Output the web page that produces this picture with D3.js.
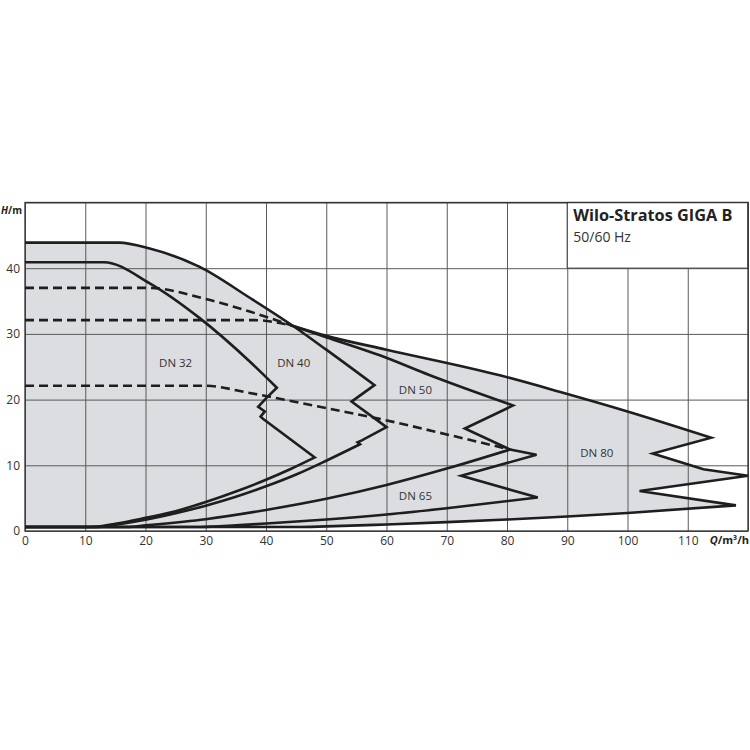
<!DOCTYPE html>
<html>
<head>
<meta charset="utf-8">
<script src="https://cdn.jsdelivr.net/npm/d3@7"></script>
<style>
    body { margin: 0; background: #fff; }
    text { font-family: "Open Sans", "Noto Sans", sans-serif; }
</style>
</head>
<body>
<div id="pump-chart"></div>
<script>

// axis ticks
var qTicks = [0, 10, 20, 30, 40, 50, 60, 70, 80, 90, 100, 110]
var hTicks = [0, 10, 20, 30, 40]
var gridQ = [0, 10, 20, 30, 40, 50, 60, 70, 80, 90, 100, 110, 120]
var gridH = [0, 10, 20, 30, 40, 50]

// [Q m3/h, H m] points
var dn32Top = [[0, 40.9], [13.1, 40.9], [20.7, 37.7], [29, 32.4], [37.3, 25.8], [41.8, 21.8]]
var dn32Edge = [[41.8, 21.8], [40.0, 20.2], [38.7, 18.9], [39.8, 18.2], [39.1, 17.4], [39.6, 17.0], [48.1, 11.2]]
var dn32Base = [[0, 0.6], [11, 0.6], [15, 1.1], [20, 2.0], [25, 3.0], [30, 4.4], [35, 6.0], [40, 7.8], [44, 9.4], [48.1, 11.2]]

var dn40Top = [[0, 43.9], [15.6, 43.9], [20.7, 43.0], [29, 40.2], [37.3, 35.5], [44.5, 31.2], [50, 27.6], [58, 22.2]]
var dn40Edge = [[58, 22.2], [54.2, 19.7], [60, 15.8], [55.9, 13.8], [55.2, 13.5], [55.6, 13.2]]
var dn40Base = [[0, 0.6], [12, 0.6], [15, 0.95], [20, 1.7], [25, 2.7], [30, 3.85], [35, 5.2], [40, 6.8], [45, 8.6], [50, 10.7], [55.6, 13.2]]

var dn50Dash = [[0, 37], [20.5, 37], [30, 35.3], [37.3, 33.4], [44.5, 31.2]]
var dn50Top = [[44.5, 31.2], [50, 29.5], [59, 26.7], [67.2, 23.7], [81, 19.1]]
var dn50Edge = [[81, 19.1], [73, 15.6], [80.5, 12.4]]
var dn50Base = [[0, 0.6], [17, 0.6], [20, 0.85], [30, 1.8], [40, 3.2], [50, 4.9], [60, 7.0], [70, 9.5], [80.5, 12.4]]

var dn65Dash = [[0, 22.1], [30, 22.1], [37.3, 21.0], [50, 18.7], [59.7, 16.9], [70, 14.7], [80.5, 12.4]]
var dn65Top = [[80.5, 12.4], [84.9, 11.6]]
var dn65Edge = [[84.9, 11.6], [72.4, 8.4], [85.1, 5.1]]
var dn65Base = [[0, 0.6], [29, 0.6], [35, 0.85], [40, 1.15], [50, 1.75], [60, 2.5], [70, 3.45], [85.1, 5.1]]

var dn80Dash = [[0, 32.1], [38, 32.1], [44.5, 31.2]]
var dn80Top = [[44.5, 31.2], [50, 29.7], [60, 27.6], [78.8, 23.7], [88.7, 21.2], [100, 18.2], [113.9, 14.2]]
var dn80Edge = [[113.9, 14.2], [104.2, 11.8], [112.6, 9.4], [120, 8.4], [102, 6.1], [118, 3.9]]
var dn80Base = [[0, 0.6], [45, 0.6], [50, 0.7], [60, 1.0], [70, 1.35], [80, 1.75], [90, 2.2], [100, 2.75], [118, 3.9]]

var seriesNames = ["DN 32", "DN 40", "DN 50", "DN 65", "DN 80"]
var labelAt = [[25, 25.6], [44.6, 25.6], [64.8, 21.5], [64.8, 5.3], [94.9, 11.9]]

var regions = [
    { dash: null, top: dn32Top, edge: dn32Edge, base: dn32Base },
    { dash: null, top: dn40Top, edge: dn40Edge, base: dn40Base },
    { dash: dn50Dash, top: dn50Top, edge: dn50Edge, base: dn50Base },
    { dash: dn65Dash, top: dn65Top, edge: dn65Edge, base: dn65Base },
    { dash: dn80Dash, top: dn80Top, edge: dn80Edge, base: dn80Base }
]

var svg = d3.select("#pump-chart")
    .append("svg")
    .attr("width", 750)
    .attr("height", 750)

var x = d3.scaleLinear().domain([0, 120]).range([25, 748])
var y = d3.scaleLinear().domain([0, 50]).range([531, 202.5])

var smooth = d3.line()
    .x(function (d) { return x(d[0]) })
    .y(function (d) { return y(d[1]) })
    .curve(d3.curveMonotoneX)
var straight = d3.line()
    .x(function (d) { return x(d[0]) })
    .y(function (d) { return y(d[1]) })

function asLine(d) { return d.replace(/^M/, "L") }

// top curve -> zigzag right edge -> system curve back to Q=0
function outline(r) {
    return smooth(r.top) + asLine(straight(r.edge)) + asLine(smooth(r.base.slice().reverse()))
}

// grey operating fields
var fillGroup = svg.append("g").attr("class", "fields")
fillGroup.selectAll("path")
    .data(regions)
    .enter()
    .append("path")
    .attr("d", function (r) {
        var full = r.dash ? r.dash.concat(r.top.slice(1)) : r.top
        return smooth(full) + asLine(straight(r.edge)) + asLine(smooth(r.base.slice().reverse())) + "Z"
    })
    .style("fill", "#dcdde0")
    .style("stroke", "none")

// grid
var h = y(0) - y(50)
var gridX = svg.append("g")
    .attr("transform", "translate(0," + y(0) + ")")
    .call(d3.axisBottom(x).tickValues(gridQ).tickSize(-h).tickFormat(""))
var gridY = svg.append("g")
    .attr("transform", "translate(" + x(0) + ",0)")
    .call(d3.axisLeft(y).tickValues(gridH).tickSize(-(x(120) - x(0))).tickFormat(""))
svg.selectAll(".domain").remove()
svg.selectAll(".tick line").style("stroke", "#5a5a5a").style("stroke-width", 1)

// title box
svg.append("rect")
    .attr("x", x(90)).attr("y", y(50))
    .attr("width", x(120) - x(90)).attr("height", y(40) - y(50))
    .style("fill", "#fff").style("stroke", "#444").style("stroke-width", 1.2)

svg.append("text")
    .attr("x", x(90) + 6).attr("y", y(50) + 18.5)
    .style("font-size", "16.3px").style("font-weight", "bold").style("fill", "#222")
    .text("Wilo-Stratos GIGA B")
svg.append("text")
    .attr("x", x(90) + 6).attr("y", y(50) + 39)
    .style("font-size", "14px").style("fill", "#333")
    .text("50/60 Hz")

// frame
svg.append("rect")
    .attr("x", x(0)).attr("y", y(50))
    .attr("width", x(120) - x(0)).attr("height", h)
    .style("fill", "none").style("stroke", "#333").style("stroke-width", 1.3)

// dashed hidden parts of max curves
var dashGroup = svg.append("g").attr("class", "hidden")
dashGroup.selectAll("path")
    .data(regions.filter(function (r) { return r.dash }))
    .enter()
    .append("path")
    .attr("d", function (r) { return smooth(r.dash) })
    .style("fill", "none")
    .style("stroke", "#1e1e1e")
    .style("stroke-width", 2.6)
    .style("stroke-dasharray", "9,5")

// curve outlines
var lineGroup = svg.append("g").attr("class", "curves")
lineGroup.selectAll("path")
    .data(regions)
    .enter()
    .append("path")
    .attr("d", outline)
    .style("fill", "none")
    .style("stroke", "#1e1e1e")
    .style("stroke-width", 2.6)
    .style("stroke-linejoin", "miter")

// field labels
svg.append("g").selectAll("text")
    .data(seriesNames)
    .enter()
    .append("text")
    .attr("x", function (d, i) { return x(labelAt[i][0]) })
    .attr("y", function (d, i) { return y(labelAt[i][1]) })
    .attr("dy", "0.35em")
    .attr("text-anchor", "middle")
    .style("font-size", "11.5px")
    .style("fill", "#333")
    .text(function (d) { return d })

// axes labels
var xAxis = svg.append("g")
    .attr("transform", "translate(0," + y(0) + ")")
    .call(d3.axisBottom(x).tickValues(qTicks).tickSize(0).tickPadding(5))
var yAxis = svg.append("g")
    .attr("transform", "translate(" + x(0) + ",0)")
    .call(d3.axisLeft(y).tickValues(hTicks).tickSize(0).tickPadding(5))
xAxis.select(".domain").remove()
yAxis.select(".domain").remove()
svg.selectAll(".tick text")
    .style("font-family", "'Open Sans', sans-serif")
    .style("font-size", "12px")
    .style("fill", "#333")

var hLabel = svg.append("text")
    .attr("x", 1).attr("y", 213.5)
    .style("font-size", "10px").style("font-weight", "bold").style("fill", "#222")
hLabel.append("tspan").style("font-style", "italic").text("H")
hLabel.append("tspan").text("/m")

var qLabel = svg.append("text")
    .attr("x", 749).attr("y", 544)
    .attr("text-anchor", "end")
    .style("font-size", "11px").style("font-weight", "bold").style("fill", "#222")
qLabel.append("tspan").style("font-style", "italic").text("Q")
qLabel.append("tspan").text("/m³/h")

</script>
</body>
</html>
